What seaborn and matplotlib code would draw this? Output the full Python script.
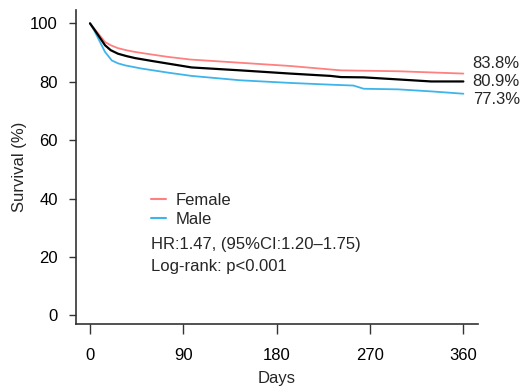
import matplotlib
matplotlib.use("Agg")
import matplotlib.pyplot as plt
import seaborn as sns
import pandas as pd
from matplotlib.lines import Line2D

sns.set_style("ticks")
plt.rcParams['font.family'] = ['Liberation Sans', 'DejaVu Sans']

female_days = [0, 4, 8, 14.5, 20, 27, 35, 43.5, 60, 75.5, 97, 145, 193, 232, 242, 297, 360]
female = [100, 98.2, 96.5, 93.6, 92.5, 91.5, 90.8, 90.2, 89.3, 88.5, 87.6, 86.5, 85.4, 84.2, 83.9, 83.6, 82.8]

overall_days = [0, 4, 8, 14.5, 20, 27, 35, 43.5, 60, 79, 98, 145, 193, 232, 242, 264, 297, 329, 360]
overall = [100, 98.0, 95.9, 92.5, 90.8, 89.6, 88.8, 88.1, 87.1, 86.0, 84.9, 83.9, 82.8, 82.0, 81.6, 81.5, 80.8, 80.1, 80.1]

male_days = [0, 4, 8, 14.5, 21, 27, 34, 50, 75.7, 98, 145, 193, 232, 254, 264, 297, 329, 360]
male = [100, 97.6, 94.8, 90.2, 87.3, 86.3, 85.6, 84.5, 83.1, 82.0, 80.5, 79.6, 79.0, 78.7, 77.6, 77.4, 76.7, 75.9]

end_labels = ["83.8%", "80.9%", "77.3%"]
x_ticks = [0, 90, 180, 270, 360]
y_ticks = [0, 20, 40, 60, 80, 100]

c_female = "#FF8080"
c_male = "#3DB5EA"

fig = plt.figure(figsize=(5.24, 3.92), dpi=100)
ax = fig.add_axes([0.145, 0.173, 0.767, 0.801])

df_f = pd.DataFrame({"days": female_days, "surv": female})
df_o = pd.DataFrame({"days": overall_days, "surv": overall})
df_m = pd.DataFrame({"days": male_days, "surv": male})
sns.lineplot(data=df_f, x="days", y="surv", color=c_female, lw=1.3, ax=ax)
sns.lineplot(data=df_m, x="days", y="surv", color=c_male, lw=1.3, ax=ax)
sns.lineplot(data=df_o, x="days", y="surv", color="black", lw=1.6, ax=ax)

ax.set_xlim(-13.5, 374)
ax.set_ylim(-3, 104.5)
ax.set_xticks(x_ticks)
ax.set_yticks(y_ticks)
ax.tick_params(axis='both', labelsize=12, width=1, color="#333333", labelcolor="black")
ax.tick_params(axis='x', length=7, pad=10)
ax.tick_params(axis='y', length=5, pad=8)
for s in ["left", "bottom"]:
    ax.spines[s].set_color("#333333")
    ax.spines[s].set_linewidth(1.2)
sns.despine(ax=ax)
ax.set_xlabel("Days", fontsize=12, labelpad=6)
ax.set_ylabel("Survival (%)", fontsize=12, labelpad=2)

for lab, yv in zip(end_labels, [86.3, 80.1, 74.0]):
    ax.text(369, yv, lab, fontsize=12, ha="left", va="center", clip_on=False)

handles = [Line2D([], [], color=c_female, lw=1.5), Line2D([], [], color=c_male, lw=1.5)]
ax.legend(handles, ["Female", "Male"], loc="upper left", bbox_to_anchor=(0.17, 0.44),
          frameon=False, fontsize=12, handlelength=0.9, handletextpad=0.6, labelspacing=0.25,
          borderaxespad=0)
ax.text(0.186, 0.253, "HR:1.47, (95%CI:1.20\u20131.75)", transform=ax.transAxes, fontsize=12, va="center")
ax.text(0.186, 0.183, "Log-rank: p<0.001", transform=ax.transAxes, fontsize=12, va="center")

fig.savefig("out.png", dpi=100)
